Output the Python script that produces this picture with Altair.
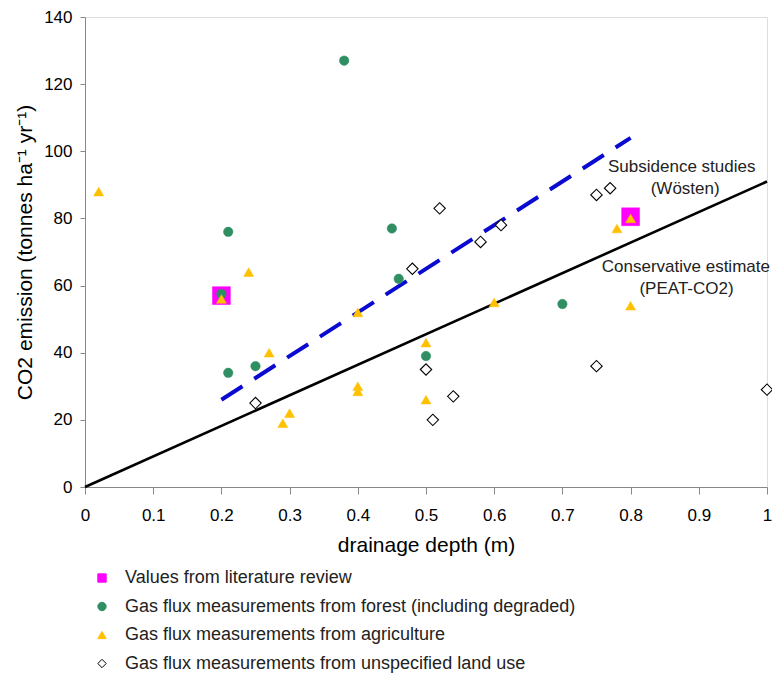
import altair as alt
import pandas as pd

# ---- data ----
categories = [
    "Values from literature review",
    "Gas flux measurements from forest (including degraded)",
    "Gas flux measurements from agriculture",
    "Gas flux measurements from unspecified land use",
]
shapes = ["square", "circle", "triangle-up", "diamond"]
fills = ["#ff00ff", "#2f8f62", "#ffc000", "#ffffff"]
strokes = ["#ff00ff", "#2f8f62", "#ffc000", "#000000"]

lit_x = [0.20, 0.80]
lit_y = [57, 80.5]

forest_x = [0.20, 0.21, 0.21, 0.25, 0.38, 0.45, 0.46, 0.50, 0.70]
forest_y = [57.5, 76, 34, 36, 127, 77, 62, 39, 54.5]

agri_x = [0.02, 0.20, 0.24, 0.27, 0.29, 0.30, 0.40, 0.40, 0.40, 0.50, 0.50, 0.60, 0.78, 0.80, 0.80]
agri_y = [88, 56, 64, 40, 19, 22, 52, 30, 28.5, 43, 26, 55, 77, 80, 54]

unspec_x = [0.25, 0.48, 0.50, 0.51, 0.52, 0.54, 0.58, 0.61, 0.75, 0.75, 0.77, 1.00]
unspec_y = [25, 65, 35, 20, 83, 27, 73, 78, 87, 36, 89, 29]

conservative_x = [0.0, 1.0]
conservative_y = [0.0, 91.0]
subsidence_x = [0.2, 0.8]
subsidence_y = [26.0, 104.0]

note_text = ["Subsidence studies", "(Wösten)", "Conservative estimate", "(PEAT-CO2)"]
note_x = [0.875, 0.88, 0.881, 0.882]
note_y = [95.4, 88.9, 65.4, 58.9]

x_ticks = [0, 0.1, 0.2, 0.3, 0.4, 0.5, 0.6, 0.7, 0.8, 0.9, 1]
y_ticks = [0, 20, 40, 60, 80, 100, 120, 140]

FONT = "Liberation Sans"
TXT = "#222222"

xs = alt.Scale(domain=[0, 1], nice=False, zero=False)
ys = alt.Scale(domain=[0, 140], nice=False)

x_axis = alt.Axis(values=x_ticks, format="~g", title="drainage depth (m)", grid=False,
                  tickSize=7, labelPadding=13, titlePadding=11,
                  labelFontSize=17, titleFontSize=21, titleFontWeight="normal",
                  labelFlush=False)
y_axis = alt.Axis(values=y_ticks, title="CO2 emission (tonnes ha\u207b\u00b9 yr\u207b\u00b9)", grid=False,
                  tickSize=5, labelPadding=8, titlePadding=8,
                  labelFontSize=17, titleFontSize=21, titleFontWeight="normal")


def series_df(xv, yv, cat):
    return pd.DataFrame({"x": xv, "y": yv, "series": cat})


legend = alt.Legend(title=None, orient="none", legendX=8, legendY=552,
                    direction="vertical", labelFontSize=18, labelFont=FONT,
                    labelColor=TXT, symbolSize=70, symbolStrokeWidth=1,
                    labelOffset=14, rowPadding=10.5, padding=0, labelLimit=700)

shape_enc = alt.Shape("series:N", scale=alt.Scale(domain=categories, range=shapes), legend=legend)
fill_enc = alt.Fill("series:N", scale=alt.Scale(domain=categories, range=fills), legend=legend)
stroke_enc = alt.Stroke("series:N", scale=alt.Scale(domain=categories, range=strokes), legend=legend)


def point_layer(df, size, sw):
    return alt.Chart(df).mark_point(filled=True, opacity=1, size=size, strokeWidth=sw).encode(
        x=alt.X("x:Q", scale=xs, axis=x_axis),
        y=alt.Y("y:Q", scale=ys, axis=y_axis),
        shape=shape_enc, fill=fill_enc, stroke=stroke_enc,
    )


lit = point_layer(series_df(lit_x, lit_y, categories[0]), 320, 0.5)
forest = point_layer(series_df(forest_x, forest_y, categories[1]), 90, 0.5)
agri = point_layer(series_df(agri_x, agri_y, categories[2]), 100, 0.5)
unspec = point_layer(series_df(unspec_x, unspec_y, categories[3]), 130, 1.1)

cons_line = alt.Chart(pd.DataFrame({"x": conservative_x, "y": conservative_y})).mark_line(
    color="#000000", strokeWidth=2.6).encode(
    x=alt.X("x:Q", scale=xs, axis=x_axis), y=alt.Y("y:Q", scale=ys, axis=y_axis))

sub_line = alt.Chart(pd.DataFrame({"x": subsidence_x, "y": subsidence_y})).mark_line(
    color="#0a0ad0", strokeWidth=4, strokeDash=[25, 14]).encode(
    x=alt.X("x:Q", scale=xs, axis=x_axis), y=alt.Y("y:Q", scale=ys, axis=y_axis))

notes = alt.Chart(pd.DataFrame({"x": note_x, "y": note_y, "t": note_text})).mark_text(
    font=FONT, fontSize=17, color=TXT, align="center", baseline="middle").encode(
    x=alt.X("x:Q", scale=xs, axis=x_axis), y=alt.Y("y:Q", scale=ys, axis=y_axis), text="t:N")

chart = alt.layer(cons_line, sub_line, lit, forest, agri, unspec, notes).properties(
    width=682, height=470,
    autosize=alt.AutoSizeParams(type="none"),
    padding={"left": 77, "top": 9, "right": 5, "bottom": 186},
).configure_view(
    stroke="#000000", strokeWidth=1.5,
).configure_axis(
    grid=False, domainColor="#000000", domainWidth=1.5, tickColor="#000000", tickWidth=1.2,
    labelFont=FONT, titleFont=FONT, labelColor=TXT, titleColor=TXT,
).configure(background="white")

chart.save("out.html", embed_options={"renderer": "svg", "actions": False})
